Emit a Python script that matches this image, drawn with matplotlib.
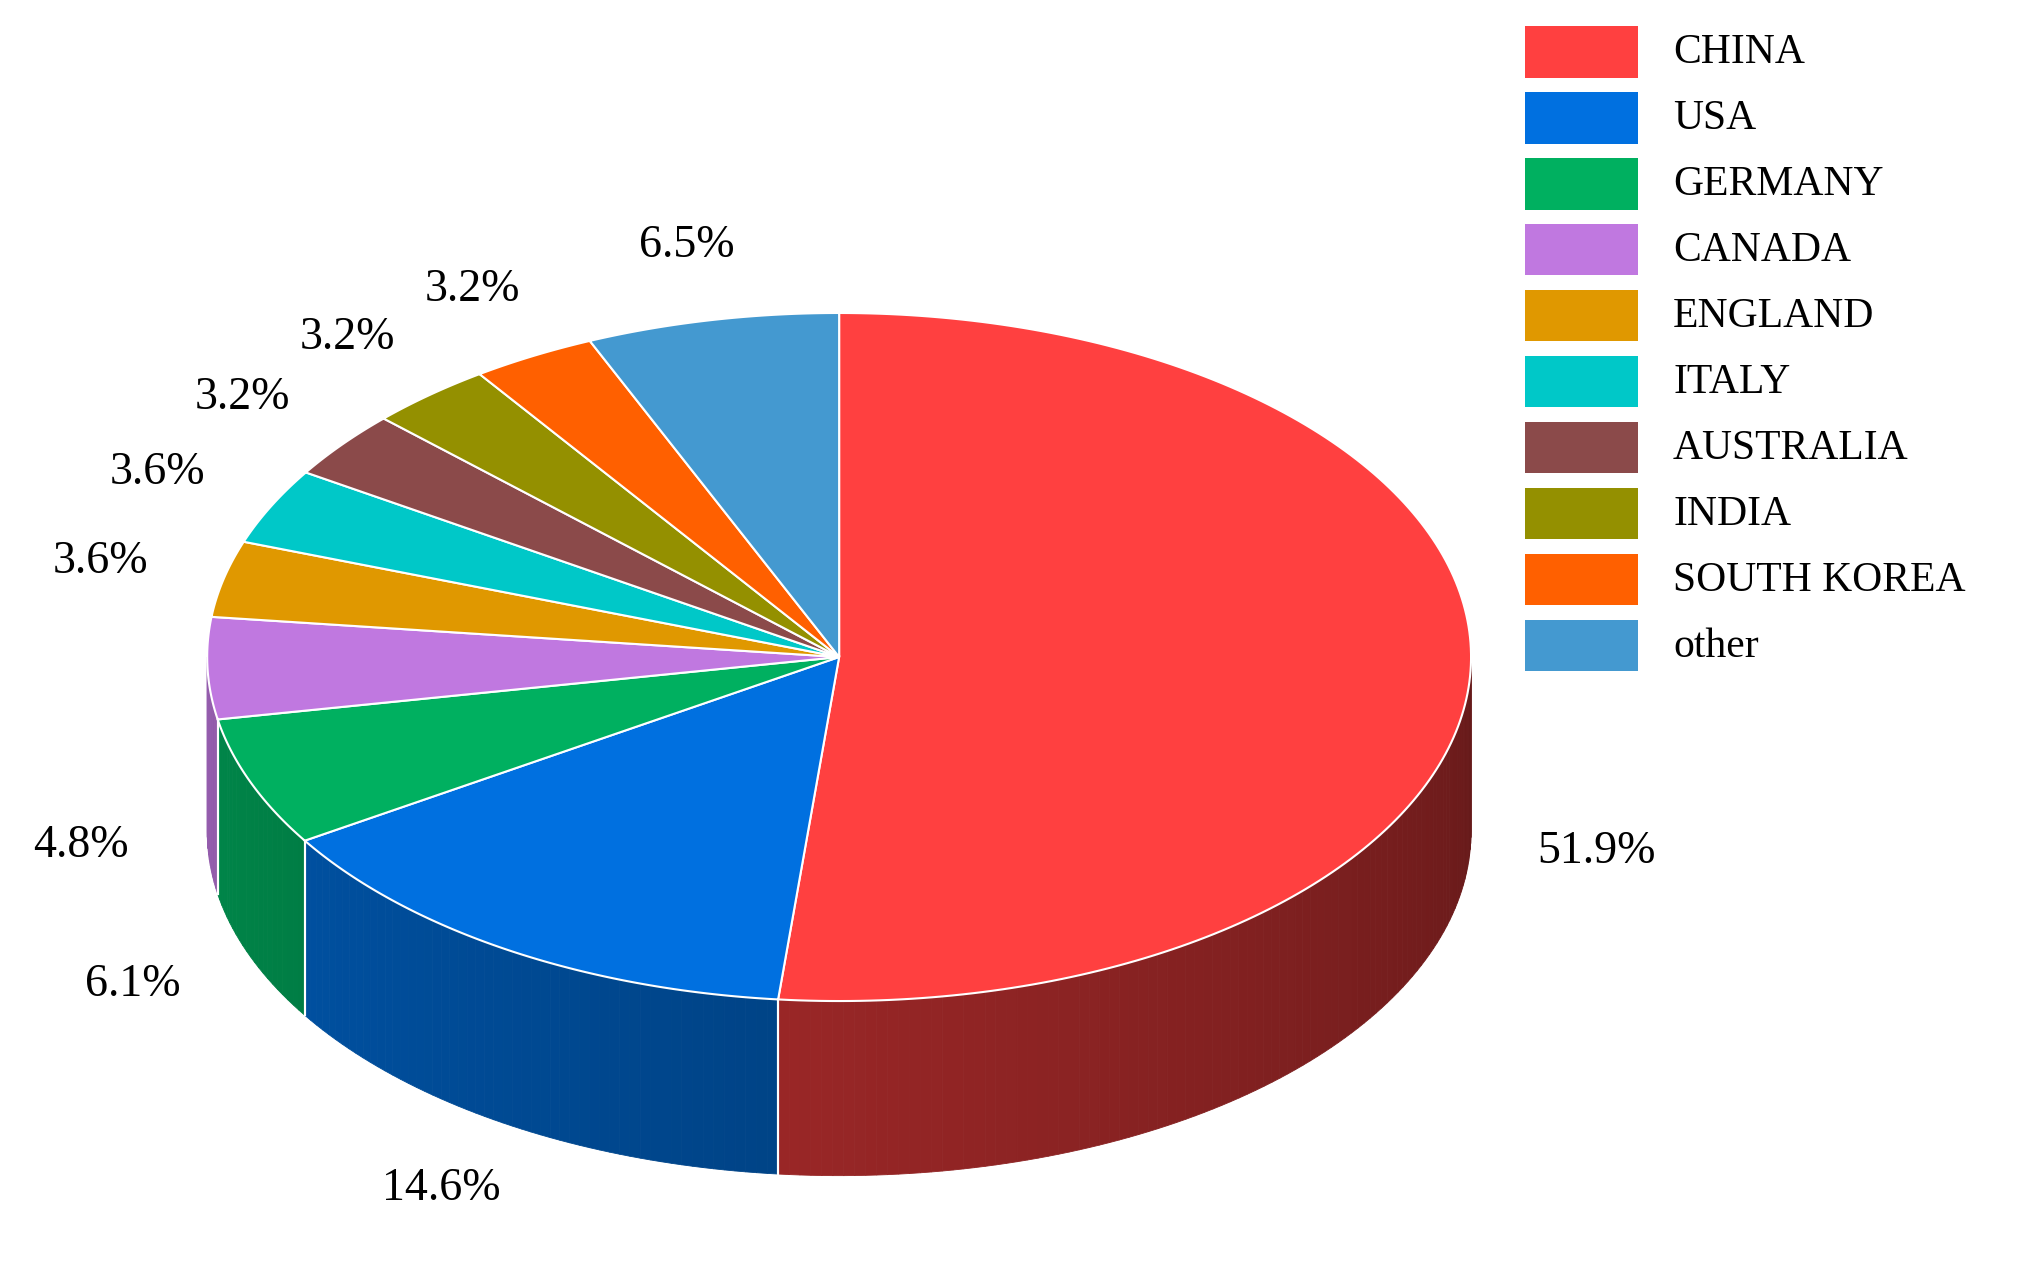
import numpy as np
import matplotlib
matplotlib.use("Agg")
import matplotlib.pyplot as plt
from matplotlib.patches import Polygon, Rectangle
from matplotlib.colors import to_rgb

categories = ["CHINA", "USA", "GERMANY", "CANADA", "ENGLAND", "ITALY",
              "AUSTRALIA", "INDIA", "SOUTH KOREA", "other"]
values = [51.9, 14.6, 6.1, 4.8, 3.6, 3.6, 3.2, 3.2, 3.2, 6.5]
labels = ["51.9%", "14.6%", "6.1%", "4.8%", "3.6%", "3.6%", "3.2%", "3.2%", "3.2%", "6.5%"]
colors = ["#ff4040", "#0070e0", "#00b060", "#c078e0", "#e09800", "#00c8c8",
          "#8b4a4a", "#949000", "#ff6000", "#4499d0"]

W, H = 1563, 975
cx, cy, rx, ry, depth = 648, 508, 488, 266, 135

fig = plt.figure(figsize=(20.24, 12.61), dpi=100)
ax = fig.add_axes([0, 0, 1, 1])
ax.set_xlim(0, W); ax.set_ylim(H, 0); ax.axis("off")

def pt(t, d=0):
    r = np.radians(t)
    return cx + rx*np.cos(r), cy - ry*np.sin(r) + d

total = sum(values)
start = 90.0
wedges = []
for v in values:
    span = 360*v/total
    wedges.append((start-span, start))
    start -= span

font = "Liberation Serif"
# sides
for (a0, a1), c in zip(wedges, colors):
    base = np.array(to_rgb(c))
    for lo, hi in [(a0, a1), (a0+360, a1+360), (a0-360, a1-360)]:
        s, e = max(lo, -180), min(hi, 0)
        if e <= s: continue
        ts = np.linspace(s, e, max(2, int(e-s)+2))
        for i in range(len(ts)-1):
            t0, t1 = ts[i], ts[i+1]
            f = 0.78 - 0.38*((t0+t1)/2+180)/180
            poly = [pt(t0), pt(t1), pt(t1, depth), pt(t0, depth)]
            ax.add_patch(Polygon(poly, closed=True, fc=base*f, ec=base*f, lw=0.6))
        for b in (s, e):
            if -180 < b < 0:
                x0, y0 = pt(b); ax.plot([x0, x0], [y0, y0+depth], color="white", lw=1.5)
# tops
for (a0, a1), c in zip(wedges, colors):
    ts = np.linspace(a0, a1, 200)
    poly = [(cx, cy)] + [pt(t) for t in ts]
    ax.add_patch(Polygon(poly, closed=True, fc=c, ec="white", lw=1.5))
# labels
for (a0, a1), lab in zip(wedges, labels):
    m = (a0+a1)/2
    r = np.radians(m)
    x = cx + 1.2*rx*np.cos(r)
    y = cy - 1.22*ry*np.sin(r)
    if np.sin(r) < 0:
        y += depth
    ax.text(x, y, lab, fontsize=33, family=font, ha="center", va="center")
# legend
for i, (cat, c) in enumerate(zip(categories, colors)):
    y = 20 + i*51
    ax.add_patch(Rectangle((1178, y), 87, 40, fc=c, ec="none"))
    ax.text(1292, y+21, cat, fontsize=30, family=font, va="center", ha="left")

fig.savefig("out.png", dpi=100)
